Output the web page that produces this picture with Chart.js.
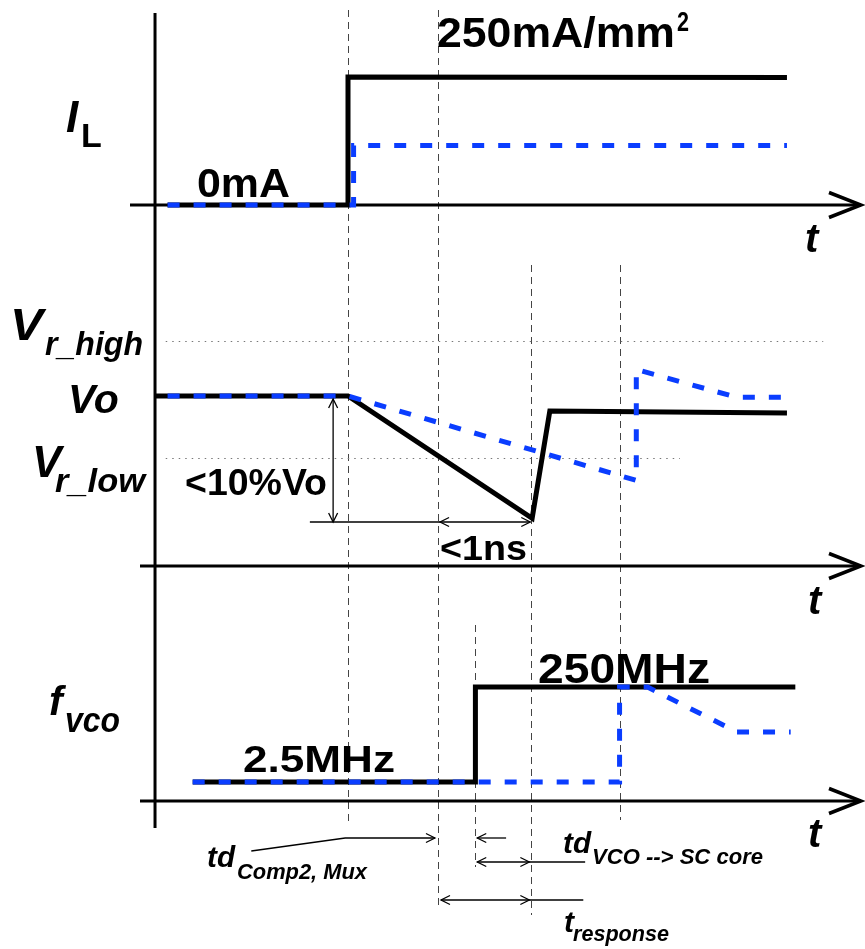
<!DOCTYPE html>
<html>
<head>
<meta charset="utf-8">
<script src="https://cdn.jsdelivr.net/npm/chart.js@4.4.1/dist/chart.umd.min.js"></script>
<style>
  html, body { margin: 0; padding: 0; background: #fff; }
  canvas { display: block; }
</style>
</head>
<body>
<canvas id="chart" width="865" height="949"></canvas>
<script>
// time axis in ns, 0 = load step

// load current I_L (mA/mm^2)
const ilFastTime = [-1.94, 0, 0, 4.72];
const ilFast     = [0, 0, 250, 249];
const ilSlowTime = [-1.94, 0.06, 0.06, 4.72];
const ilSlow     = [0, 0, 116, 116];

// output voltage (% of Vo)
const voFastTime = [-2.075, 0, 1.98, 2.17, 4.72];
const voFast     = [100, 100, 90.3, 98.8, 98.65];
const voSlowTime = [-1.94, 0, 3.10, 3.10, 4.18, 4.78];
const voSlow     = [100, 100, 93.3, 102.1, 99.9, 99.9];
const vrHigh = 104.4;
const vrLow  = 95.1;

// VCO frequency (MHz)
const fFastTime = [-1.67, 1.37, 1.37, 4.81];
const fFast     = [2.5, 2.5, 250, 250];
const fSlowTime = [-1.67, 2.92, 2.92, 3.22, 4.18, 4.76];
const fSlow     = [2.5, 2.5, 250, 250, 133, 133];

// event times used for the dashed guides
const guideTimes = [0, 0.97, 1.37, 1.97, 2.92];

const W = 865, H = 949;
const BLUE = '#0a3dff';
const FONT = '"Liberation Sans", Arial, sans-serif';

// min/max so that value v0 sits at pixel p0 and v1 at p1 on a full-height scale
function fit(v0, p0, v1, p1) {
    const s = (p0 - p1) / (v1 - v0);
    const max = v0 + p0 / s;
    return { min: max - H / s, max: max };
}
const xr = { min: -348 / 93, max: (W - 348) / 93 };

function pts(t, v) {
    return t.map((x, i) => ({ x: x, y: v[i] }));
}

function line(data, axis, color, dashed) {
    return {
        data: data,
        yAxisID: axis,
        showLine: true,
        borderColor: color,
        borderWidth: 5,
        borderDash: dashed ? [12, 14] : [],
        borderCapStyle: 'butt',
        borderJoinStyle: 'miter',
        pointRadius: 0,
        tension: 0,
        fill: false,
        order: dashed ? 0 : 1
    };
}

function text(ctx, s, x, y, size, italic, w) {
    ctx.font = (italic ? 'italic ' : '') + 'bold ' + size + 'px ' + FONT;
    const m = ctx.measureText(s).width;
    const k = w ? w / m : 1;
    ctx.save();
    ctx.translate(x, y);
    ctx.scale(k, 1);
    ctx.fillText(s, 0, 0);
    ctx.restore();
}

// open arrow head, tip at (x, y), pointing in dir
function head(ctx, x, y, dir, len, spread) {
    len = len || 9; spread = spread || 4.5;
    const d = { l: [1, 0], r: [-1, 0], u: [0, 1], d: [0, -1] }[dir];
    ctx.beginPath();
    ctx.moveTo(x + d[0] * len - d[1] * spread, y + d[1] * len - d[0] * spread);
    ctx.lineTo(x, y);
    ctx.lineTo(x + d[0] * len + d[1] * spread, y + d[1] * len + d[0] * spread);
    ctx.stroke();
}

function seg(ctx, x1, y1, x2, y2) {
    ctx.beginPath();
    ctx.moveTo(x1, y1);
    ctx.lineTo(x2, y2);
    ctx.stroke();
}

const diagram = {
    id: 'diagram',
    beforeDatasetsDraw(c) {
        const ctx = c.ctx;
        const X = t => c.scales.x.getPixelForValue(t);
        const yV = c.scales.yV;
        ctx.save();
        // dashed event guides
        const spans = [[10, 823], [10, 908], [625, 867], [265, 915], [265, 820]];
        ctx.strokeStyle = '#444';
        ctx.lineWidth = 1;
        ctx.setLineDash([7, 5]);
        guideTimes.forEach((t, i) => {
            const x = Math.round(X(t)) + 0.5;
            seg(ctx, x, spans[i][0], x, spans[i][1]);
        });
        // reference levels
        ctx.strokeStyle = '#777';
        ctx.setLineDash([1.5, 5]);
        let y = Math.round(yV.getPixelForValue(vrHigh)) + 0.5;
        seg(ctx, X(-1.96), y, X(5.11), y);
        y = Math.round(yV.getPixelForValue(vrLow)) + 0.5;
        seg(ctx, X(-1.96), y, X(3.57), y);
        ctx.setLineDash([]);

        // axes
        ctx.strokeStyle = '#000';
        ctx.lineWidth = 3;
        const x0 = X(-2.075);
        seg(ctx, x0, 13, x0, 828);
        const axes = [[c.scales.yI.getPixelForValue(0), 130], [566, 140], [801, 140]];
        axes.forEach(a => {
            seg(ctx, a[1], a[0], 858, a[0]);
            ctx.lineWidth = 3.5;
            head(ctx, 861, a[0], 'r', 32, 12.5);
            ctx.lineWidth = 3;
        });
        ctx.restore();
    },
    afterDatasetsDraw(c) {
        const ctx = c.ctx;
        const X = t => c.scales.x.getPixelForValue(t);
        const yV = c.scales.yV;
        ctx.save();
        ctx.fillStyle = '#000';
        ctx.strokeStyle = '#000';
        ctx.lineWidth = 1.3;

        // <10%Vo and <1ns markers
        const xa = X(-0.16), top = yV.getPixelForValue(100) + 3, bot = yV.getPixelForValue(90);
        seg(ctx, xa, top, xa, bot);
        head(ctx, xa, top, 'u');
        head(ctx, xa, bot, 'd');
        seg(ctx, X(-0.41), bot, X(0.99), bot);
        seg(ctx, X(0.99), bot, X(1.96), bot);
        head(ctx, X(0.99), bot, 'l');
        head(ctx, X(1.96), bot, 'r');

        // delay markers below the time axis
        ctx.beginPath();
        ctx.moveTo(X(-1.04), 851);
        ctx.lineTo(X(-0.03), 838);
        ctx.lineTo(X(0.935), 838);
        ctx.stroke();
        head(ctx, X(0.935), 838, 'r');
        seg(ctx, X(1.70), 838, X(1.39), 838);
        head(ctx, X(1.39), 838, 'l');
        seg(ctx, X(1.39), 862, X(2.55), 862);
        head(ctx, X(1.39), 862, 'l');
        head(ctx, X(1.95), 862, 'r');
        seg(ctx, X(1.0), 900, X(2.53), 900);
        head(ctx, X(1.0), 900, 'l');
        head(ctx, X(1.95), 900, 'r');

        // signal names
        text(ctx, 'I', 66, 132, 44, true);
        text(ctx, 'L', 81, 147, 34, false);
        text(ctx, 'V', 10, 340, 44, true, 33);
        text(ctx, 'r_high', 45, 355, 34, true, 98);
        text(ctx, 'Vo', 68, 413, 41, true);
        text(ctx, 'V', 32, 477, 44, true);
        text(ctx, 'r_low', 55, 492, 34, true, 90);
        text(ctx, 'f', 49, 715, 41, true);
        text(ctx, 'vco', 65, 732, 35, true, 55);
        text(ctx, 't', 805, 252, 40, true);
        text(ctx, 't', 808, 614, 40, true);
        text(ctx, 't', 808, 847, 40, true);

        // value labels
        text(ctx, '0mA', 197, 197, 41, false, 93);
        text(ctx, '250mA/mm', 437, 47, 42, false, 238);
        text(ctx, '2', 677, 31, 27, false, 12);
        text(ctx, '<10%Vo', 185, 495, 36, false, 142);
        text(ctx, '<1ns', 440, 560, 35, false, 87);
        text(ctx, '2.5MHz', 243, 772, 37, false, 152);
        text(ctx, '250MHz', 538, 683, 42, false, 172);

        // delay names
        text(ctx, 'td', 207, 867, 30, true, 28);
        text(ctx, 'Comp2, Mux', 237, 879, 22, true, 130);
        text(ctx, 'td', 563, 853, 30, true, 28);
        text(ctx, 'VCO --> SC core', 592, 864, 22, true, 171);
        text(ctx, 't', 564, 932, 30, true);
        text(ctx, 'response', 573, 941, 22, true, 96);
        ctx.restore();
    }
};

new Chart(document.getElementById('chart'), {
    type: 'scatter',
    data: {
        datasets: [
            line(pts(ilFastTime, ilFast), 'yI', '#000', false),
            line(pts(ilSlowTime, ilSlow), 'yI', BLUE, true),
            line(pts(voFastTime, voFast), 'yV', '#000', false),
            line(pts(voSlowTime, voSlow), 'yV', BLUE, true),
            line(pts(fFastTime, fFast), 'yF', '#000', false),
            line(pts(fSlowTime, fSlow), 'yF', BLUE, true)
        ]
    },
    options: {
        responsive: false,
        animation: false,
        devicePixelRatio: 1,
        layout: { padding: 0 },
        plugins: { legend: { display: false }, tooltip: { enabled: false } },
        scales: {
            x:  Object.assign({ type: 'linear', display: false, bounds: 'data' }, xr),
            y:  { display: false },
            yI: Object.assign({ type: 'linear', display: false, bounds: 'data' }, fit(0, 205, 250, 77)),
            yV: Object.assign({ type: 'linear', display: false, bounds: 'data' }, fit(100, 396, 90, 522)),
            yF: Object.assign({ type: 'linear', display: false, bounds: 'data' }, fit(2.5, 782, 250, 687))
        }
    },
    plugins: [diagram]
});
</script>
</body>
</html>
